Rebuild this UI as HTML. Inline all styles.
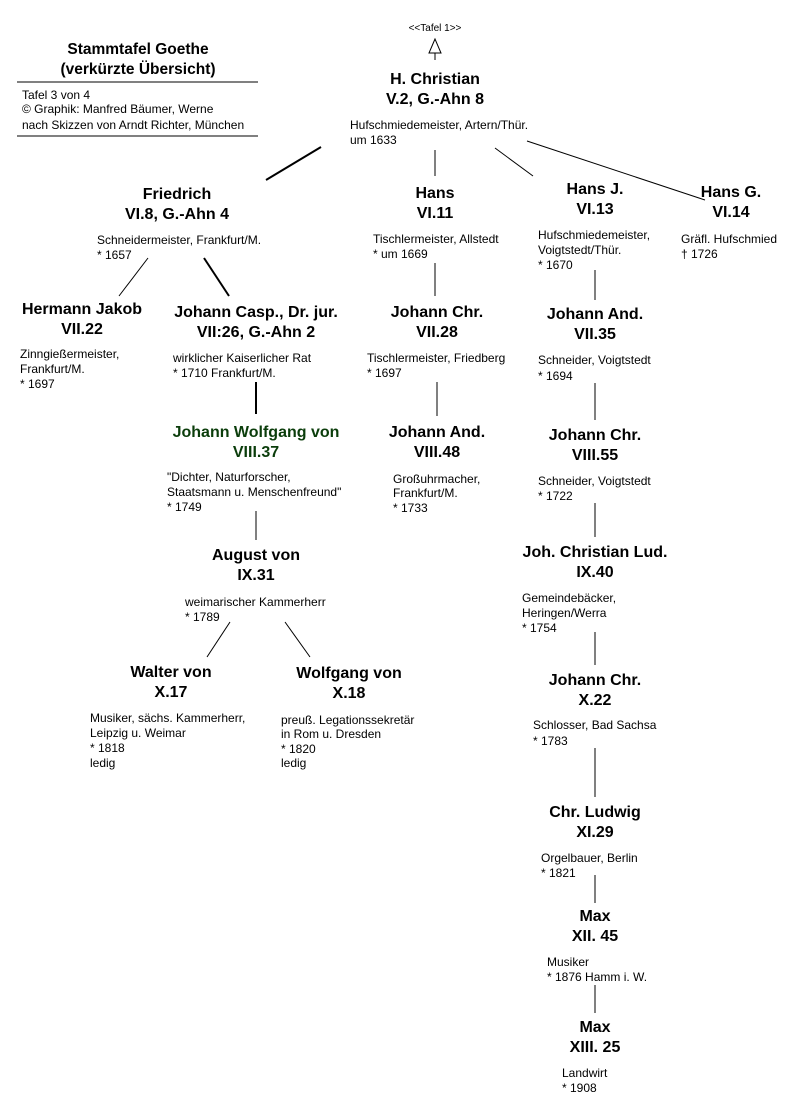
<!DOCTYPE html>
<html><head><meta charset="utf-8"><style>
body{margin:0;background:#fff}
svg{display:block}
.n{font:bold 16px "Liberation Sans",sans-serif;text-anchor:middle;fill:#000}
.s{font:12px "Liberation Sans",sans-serif;fill:#000}
.g{fill:#0b3d0b}
</style></head><body>
<svg width="793" height="1112" xmlns="http://www.w3.org/2000/svg">
<text class="n" x="138" y="54" style="font-size:15.5px">Stammtafel Goethe</text>
<text class="n" x="138" y="74" style="font-size:15.5px">(verkürzte Übersicht)</text>
<line x1="17" y1="82" x2="258" y2="82" stroke="#000"/>
<text class="s" x="22" y="99">Tafel 3 von 4</text>
<text class="s" x="22" y="113">© Graphik: Manfred Bäumer, Werne</text>
<text class="s" x="22" y="129">nach Skizzen von Arndt Richter, München</text>
<line x1="17" y1="136" x2="258" y2="136" stroke="#000"/>

<text class="s" x="435" y="31" text-anchor="middle" style="font-size:10px">&lt;&lt;Tafel 1&gt;&gt;</text>
<polygon points="435,39 429,53 441,53" fill="#fff" stroke="#000"/>
<line x1="435" y1="53" x2="435" y2="60" stroke="#000"/>

<g stroke="#000" fill="none">
<line x1="321" y1="147" x2="266" y2="180" stroke-width="2"/>
<line x1="435" y1="150" x2="435" y2="176"/>
<line x1="495" y1="148" x2="533" y2="176"/>
<line x1="527" y1="141" x2="705" y2="200"/>
<line x1="148" y1="258" x2="119" y2="296"/>
<line x1="204" y1="258" x2="229" y2="296" stroke-width="2"/>
<line x1="435" y1="263" x2="435" y2="296"/>
<line x1="595" y1="270" x2="595" y2="300"/>
<line x1="256" y1="382" x2="256" y2="414" stroke-width="2"/>
<line x1="437" y1="382" x2="437" y2="416"/>
<line x1="595" y1="383" x2="595" y2="420"/>
<line x1="256" y1="511" x2="256" y2="540"/>
<line x1="595" y1="503" x2="595" y2="537"/>
<line x1="230" y1="622" x2="207" y2="657"/>
<line x1="285" y1="622" x2="310" y2="657"/>
<line x1="595" y1="632" x2="595" y2="665"/>
<line x1="595" y1="748" x2="595" y2="797"/>
<line x1="595" y1="875" x2="595" y2="903"/>
<line x1="595" y1="985" x2="595" y2="1013"/>
</g>

<text class="n" x="435" y="84">H. Christian</text><text class="n" x="435" y="104">V.2, G.-Ahn 8</text>
<text class="s" x="350" y="129">Hufschmiedemeister, Artern/Thür.</text><text class="s" x="350" y="144">um 1633</text>

<text class="n" x="177" y="199">Friedrich</text><text class="n" x="177" y="219">VI.8, G.-Ahn 4</text>
<text class="s" x="97" y="244">Schneidermeister, Frankfurt/M.</text><text class="s" x="97" y="259">* 1657</text>

<text class="n" x="435" y="198">Hans</text><text class="n" x="435" y="218">VI.11</text>
<text class="s" x="373" y="243">Tischlermeister, Allstedt</text><text class="s" x="373" y="258">* um 1669</text>

<text class="n" x="595" y="194">Hans J.</text><text class="n" x="595" y="214">VI.13</text>
<text class="s" x="538" y="239">Hufschmiedemeister,</text><text class="s" x="538" y="254">Voigtstedt/Thür.</text><text class="s" x="538" y="269">* 1670</text>

<text class="n" x="731" y="197">Hans G.</text><text class="n" x="731" y="217">VI.14</text>
<text class="s" x="681" y="243">Gräfl. Hufschmied</text><text class="s" x="681" y="258">† 1726</text>

<text class="n" x="82" y="314">Hermann Jakob</text><text class="n" x="82" y="334">VII.22</text>
<text class="s" x="20" y="358">Zinngießermeister,</text><text class="s" x="20" y="373">Frankfurt/M.</text><text class="s" x="20" y="388">* 1697</text>

<text class="n" x="256" y="317">Johann Casp., Dr. jur.</text><text class="n" x="256" y="337">VII:26, G.-Ahn 2</text>
<text class="s" x="173" y="362">wirklicher Kaiserlicher Rat</text><text class="s" x="173" y="377">* 1710 Frankfurt/M.</text>

<text class="n" x="437" y="317">Johann Chr.</text><text class="n" x="437" y="337">VII.28</text>
<text class="s" x="367" y="362">Tischlermeister, Friedberg</text><text class="s" x="367" y="377">* 1697</text>

<text class="n" x="595" y="319">Johann And.</text><text class="n" x="595" y="339">VII.35</text>
<text class="s" x="538" y="364">Schneider, Voigtstedt</text><text class="s" x="538" y="380">* 1694</text>

<text class="n g" x="256" y="437">Johann Wolfgang von</text><text class="n g" x="256" y="457">VIII.37</text>
<text class="s" x="167" y="481">"Dichter, Naturforscher,</text><text class="s" x="167" y="496">Staatsmann u. Menschenfreund"</text><text class="s" x="167" y="511">* 1749</text>

<text class="n" x="437" y="437">Johann And.</text><text class="n" x="437" y="457">VIII.48</text>
<text class="s" x="393" y="483">Großuhrmacher,</text><text class="s" x="393" y="497">Frankfurt/M.</text><text class="s" x="393" y="512">* 1733</text>

<text class="n" x="595" y="440">Johann Chr.</text><text class="n" x="595" y="460">VIII.55</text>
<text class="s" x="538" y="485">Schneider, Voigtstedt</text><text class="s" x="538" y="500">* 1722</text>

<text class="n" x="256" y="560">August von</text><text class="n" x="256" y="580">IX.31</text>
<text class="s" x="185" y="606">weimarischer Kammerherr</text><text class="s" x="185" y="621">* 1789</text>

<text class="n" x="595" y="557">Joh. Christian Lud.</text><text class="n" x="595" y="577">IX.40</text>
<text class="s" x="522" y="602">Gemeindebäcker,</text><text class="s" x="522" y="617">Heringen/Werra</text><text class="s" x="522" y="632">* 1754</text>

<text class="n" x="171" y="677">Walter von</text><text class="n" x="171" y="697">X.17</text>
<text class="s" x="90" y="722">Musiker, sächs. Kammerherr,</text><text class="s" x="90" y="737">Leipzig u. Weimar</text><text class="s" x="90" y="752">* 1818</text><text class="s" x="90" y="767">ledig</text>

<text class="n" x="349" y="678">Wolfgang von</text><text class="n" x="349" y="698">X.18</text>
<text class="s" x="281" y="724">preuß. Legationssekretär</text><text class="s" x="281" y="738">in Rom u. Dresden</text><text class="s" x="281" y="753">* 1820</text><text class="s" x="281" y="767">ledig</text>

<text class="n" x="595" y="685">Johann Chr.</text><text class="n" x="595" y="705">X.22</text>
<text class="s" x="533" y="729">Schlosser, Bad Sachsa</text><text class="s" x="533" y="745">* 1783</text>

<text class="n" x="595" y="817">Chr. Ludwig</text><text class="n" x="595" y="837">XI.29</text>
<text class="s" x="541" y="862">Orgelbauer, Berlin</text><text class="s" x="541" y="877">* 1821</text>

<text class="n" x="595" y="921">Max</text><text class="n" x="595" y="941">XII. 45</text>
<text class="s" x="547" y="966">Musiker</text><text class="s" x="547" y="981">* 1876 Hamm i. W.</text>

<text class="n" x="595" y="1032">Max</text><text class="n" x="595" y="1052">XIII. 25</text>
<text class="s" x="562" y="1077">Landwirt</text><text class="s" x="562" y="1092">* 1908</text>
</svg>
</body></html>
